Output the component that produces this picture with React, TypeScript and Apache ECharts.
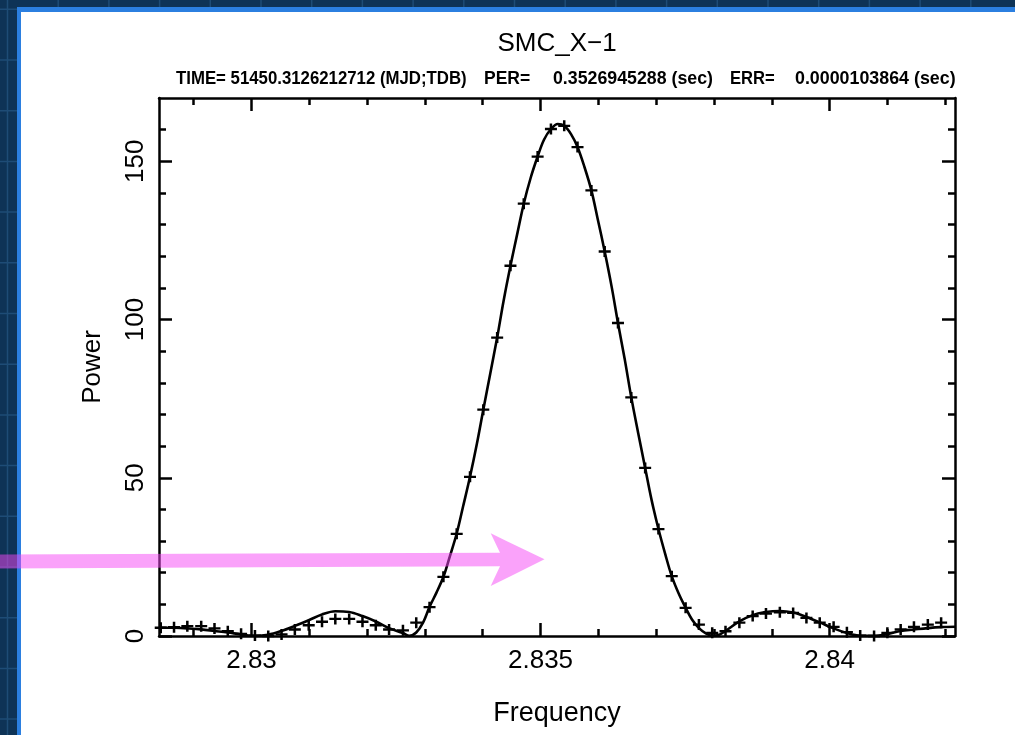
import React, { useEffect, useRef } from "react";
import * as echarts from "echarts";

// ---- data ----
const markerFreq = [
  2.82843, 2.82866, 2.82889, 2.82913, 2.82936, 2.82959, 2.82982, 2.83006, 2.83029, 2.83052,
  2.83075, 2.83099, 2.83122, 2.83145, 2.83169, 2.83192, 2.83215, 2.83238, 2.83262, 2.83285,
  2.83308, 2.83332, 2.83355, 2.83378, 2.83401, 2.83425, 2.83448, 2.83471, 2.83495, 2.83518,
  2.83541, 2.83564, 2.83588, 2.83611, 2.83634, 2.83657, 2.83681, 2.83704, 2.83727, 2.83751,
  2.83774, 2.83797, 2.8382, 2.83844, 2.83867, 2.8389, 2.83914, 2.83937, 2.8396, 2.83983,
  2.84007, 2.8403, 2.84053, 2.84077, 2.841, 2.84123, 2.84146, 2.8417, 2.84193,
];
const markerPower = [
  2.6, 2.8, 3.1, 3.1, 2.4, 1.5, 0.7, 0.15, 0.0, 0.5,
  2.05, 3.4, 4.5, 5.4, 5.4, 4.5, 3.4, 2.05, 1.8, 4.2,
  9.1, 18.7, 32.3, 50.3, 71.5, 94.3, 117.0, 136.6, 151.5, 160.2,
  161.2, 154.5, 140.8, 121.5, 98.9, 75.4, 53.1, 33.8, 18.9, 8.9,
  3.6, 1.0, 1.5, 4.2, 6.3, 7.1, 7.5, 7.3, 5.7, 4.2,
  2.9, 1.2, 0.15, 0.0, 1.0, 2.05, 2.9, 3.6, 4.2,
];

const curveFreq = [
  2.8284, 2.82866, 2.82889, 2.82913, 2.82936, 2.82959, 2.82982, 2.83006, 2.83029, 2.83052,
  2.83075, 2.83099, 2.83122, 2.83145, 2.83169, 2.83192, 2.83215, 2.83238, 2.83262, 2.83273,
  2.83285, 2.83297, 2.83308, 2.8332, 2.83332, 2.83343, 2.83355, 2.83366, 2.83378, 2.8339,
  2.83401, 2.83413, 2.83425, 2.83436, 2.83448, 2.8346, 2.83471, 2.83483, 2.83495, 2.83506,
  2.83518, 2.8353, 2.83541, 2.83553, 2.83564, 2.83576, 2.83588, 2.83599, 2.83611, 2.83623,
  2.83634, 2.83646, 2.83657, 2.83669, 2.83681, 2.83692, 2.83704, 2.83716, 2.83727, 2.83739,
  2.83751, 2.83762, 2.83774, 2.83786, 2.83797, 2.83809, 2.8382, 2.83844, 2.83867, 2.8389,
  2.83914, 2.83937, 2.8396, 2.83983, 2.84007, 2.8403, 2.84053, 2.84077, 2.841, 2.84123,
  2.84146, 2.8417, 2.84193, 2.84217,
];
const curvePower = [
  2.7, 2.6, 2.4, 2.1, 1.6, 1.1, 0.5, 0.05, 0.4, 1.6,
  3.2, 5.0, 6.8, 7.8, 7.6, 6.3, 4.6, 2.5, 0.95, 0.05,
  1.1, 4.3, 9.2, 13.7, 18.7, 25.1, 32.4, 40.9, 50.3, 60.8,
  71.5, 82.9, 94.3, 105.8, 117.0, 127.3, 136.6, 144.8, 151.5, 156.8,
  160.2, 161.8, 161.2, 158.5, 154.5, 148.2, 140.8, 131.7, 121.5, 110.4,
  98.9, 87.1, 75.4, 64.1, 53.1, 43.1, 33.8, 25.7, 18.9, 13.4,
  8.9, 5.2, 2.5, 0.85, 0.05, 0.4, 1.6, 4.6, 6.6, 7.6,
  7.9, 7.4, 6.0, 4.3, 2.4, 0.95, 0.1, 0.05, 0.6, 1.6,
  2.05, 2.5, 2.8, 2.9,
];

const xMajorTicks = [2.83, 2.835, 2.84];
const xMinorTicks = [2.829, 2.831, 2.832, 2.833, 2.834, 2.836, 2.837, 2.838, 2.839, 2.841, 2.842];
const yMajorTicks = [0, 50, 100, 150];
const yMinorTicks = [10, 20, 30, 40, 60, 70, 80, 90, 110, 120, 130, 140, 160];

const titleText = "SMC_X\u22121";
const subtitleParts = [
  "TIME= 51450.3126212712 (MJD;TDB)",
  "PER=",
  "0.3526945288 (sec)",
  "ERR=",
  "0.0000103864 (sec)",
];
const xName = "Frequency";
const yName = "Power";

// ---- layout / style ----
const X_MIN = 2.8284;
const X_MAX = 2.84217;
const Y_MIN = 0;
const Y_MAX = 170;
const FONT = "'Liberation Sans', Arial, sans-serif";
const subX = [176, 484, 553, 730, 795];
const subScale = [0.96, 1, 1.015, 0.95, 1.02];

function xAxisDef(position: string, major: boolean, ticks: number[], withLabel: boolean, withLine: boolean, name?: string) {
  return {
    type: "value",
    position,
    min: X_MIN,
    max: X_MAX,
    name: name || "",
    nameLocation: "middle",
    nameGap: 62,
    nameTextStyle: { fontFamily: FONT, fontSize: 27, color: "#000" },
    axisLine: { show: withLine, onZero: false, lineStyle: { color: "#000", width: 2.5 } },
    axisTick: {
      show: true,
      inside: true,
      length: major ? 13 : 7,
      customValues: ticks,
      lineStyle: { color: "#000", width: 2.5 },
    },
    minorTick: { show: false },
    splitLine: { show: false },
    axisLabel: withLabel
      ? {
          show: true,
          customValues: ticks,
          margin: 10,
          fontFamily: FONT,
          fontSize: 26,
          color: "#000",
          formatter: (v: number) => String(Number(v.toFixed(4))),
        }
      : { show: false },
  };
}

function yAxisDef(position: string, major: boolean, ticks: number[], withLabel: boolean, withLine: boolean, name?: string) {
  return {
    type: "value",
    position,
    min: Y_MIN,
    max: Y_MAX,
    name: name || "",
    nameLocation: "middle",
    nameGap: 55,
    nameTextStyle: { fontFamily: FONT, fontSize: 26, color: "#000" },
    axisLine: { show: withLine, onZero: false, lineStyle: { color: "#000", width: 2.5 } },
    axisTick: {
      show: true,
      inside: true,
      length: major ? 13 : 7,
      customValues: ticks,
      lineStyle: { color: "#000", width: 2.5 },
    },
    minorTick: { show: false },
    splitLine: { show: false },
    axisLabel: withLabel
      ? {
          show: true,
          customValues: ticks,
          rotate: 90,
          margin: 12,
          fontFamily: FONT,
          fontSize: 26,
          color: "#000",
        }
      : { show: false },
  };
}

function buildBackground() {
  const els: any[] = [];
  els.push({ type: "rect", z: -20, shape: { x: 0, y: 0, width: 1015, height: 735 }, style: { fill: "#0e3356" } });
  for (let x = 7.5; x < 1015; x += 50.7) {
    els.push({ type: "line", z: -19, shape: { x1: x, y1: 0, x2: x, y2: 735 }, style: { stroke: "#1e4c76", lineWidth: 1.5 } });
  }
  for (let y = 9.3; y < 735; y += 50.7) {
    els.push({ type: "line", z: -19, shape: { x1: 0, y1: y, x2: 1015, y2: y }, style: { stroke: "#1e4c76", lineWidth: 1.5 } });
  }
  els.push({ type: "rect", z: -18, shape: { x: 17, y: 7, width: 1000, height: 730 }, style: { fill: "#2b7fe0" } });
  els.push({ type: "rect", z: -17, shape: { x: 21, y: 12, width: 996, height: 725 }, style: { fill: "#ffffff" } });
  return els;
}

export default function App() {
  const ref = useRef<HTMLDivElement>(null);
  useEffect(() => {
    if (!ref.current) return;
    const chart = echarts.init(ref.current, null, { renderer: "svg" });
    const graphic: any[] = [
      ...buildBackground(),
      {
        type: "text",
        z: 10,
        x: 557,
        y: 42,
        style: { text: titleText, fontFamily: FONT, fontSize: 26, fill: "#000", align: "center", verticalAlign: "middle" },
      },
      ...subtitleParts.map((t, i) => ({
        type: "text",
        z: 10,
        x: subX[i],
        y: 78,
        scaleX: subScale[i],
        style: { text: t, fontFamily: FONT, fontSize: 17.5, fontWeight: "bold", fill: "#000", align: "left", verticalAlign: "middle" },
      })),
      {
        type: "polygon",
        z: 100,
        shape: {
          points: [
            [0, 554.5],
            [500, 552.7],
            [490.7, 533.3],
            [544.5, 559.3],
            [490.7, 586],
            [500, 566.2],
            [0, 568.5],
          ],
        },
        style: { fill: "rgba(245,70,245,0.5)" },
      },
    ];
    const option: any = {
      animation: false,
      grid: { left: 159, right: 60, top: 98, bottom: 99, containLabel: false },
      xAxis: [
        xAxisDef("bottom", true, xMajorTicks, true, true, xName),
        xAxisDef("bottom", false, xMinorTicks, false, false),
        xAxisDef("top", true, xMajorTicks, false, true),
        xAxisDef("top", false, xMinorTicks, false, false),
      ],
      yAxis: [
        yAxisDef("left", true, yMajorTicks, true, true, yName),
        yAxisDef("left", false, yMinorTicks, false, false),
        yAxisDef("right", true, yMajorTicks, false, true),
        yAxisDef("right", false, yMinorTicks, false, false),
      ],
      graphic,
      series: [
        {
          type: "line",
          xAxisIndex: 0,
          yAxisIndex: 0,
          data: curveFreq.map((f, i) => [f, curvePower[i]]),
          showSymbol: false,
          smooth: 0.35,
          lineStyle: { color: "#000", width: 2.6 },
          clip: true,
          z: 3,
        },
        {
          type: "scatter",
          xAxisIndex: 0,
          yAxisIndex: 0,
          data: markerFreq.map((f, i) => [f, markerPower[i]]),
          symbol: "path://M0,5L10,5M5,0L5,10",
          symbolSize: [12, 11],
          itemStyle: { color: "rgba(0,0,0,0)", borderColor: "#000", borderWidth: 2.4, opacity: 1 },
          z: 4,
        },
      ],
    };
    chart.setOption(option);
    return () => chart.dispose();
  }, []);
  return <div ref={ref} style={{ position: "fixed", left: 0, top: 0, width: 1015, height: 735 }} />;
}
